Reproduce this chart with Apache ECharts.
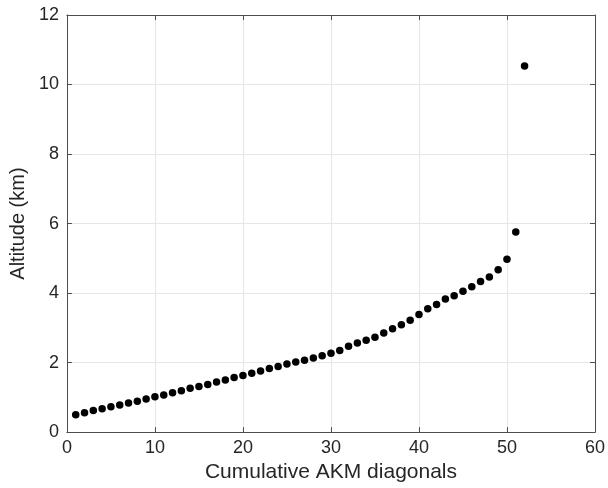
<!DOCTYPE html>
<html><head><meta charset="utf-8">
<script src="https://cdn.jsdelivr.net/npm/echarts@6/dist/echarts.min.js"></script>
<style>html,body{margin:0;padding:0;background:#fff}#c{width:608px;height:488px}</style>
</head><body><div id="c"></div>
<script>
const diagonals = [1,2,3,4,5,6,7,8,9,10,11,12,13,14,15,16,17,18,19,20,21,22,23,24,25,26,27,28,29,30,31,32,33,34,35,36,37,38,39,40,41,42,43,44,45,46,47,48,49,50,51,52];
const altitude = [0.50,0.56,0.62,0.67,0.73,0.78,0.84,0.89,0.95,1.02,1.07,1.13,1.19,1.26,1.31,1.37,1.44,1.50,1.57,1.63,1.69,1.76,1.83,1.89,1.96,2.02,2.07,2.13,2.20,2.27,2.35,2.47,2.56,2.64,2.73,2.85,2.97,3.09,3.22,3.38,3.55,3.67,3.83,3.92,4.05,4.18,4.33,4.46,4.67,4.97,5.76,10.53];
const xTicks = [0,10,20,30,40,50,60];
const yTicks = [0,2,4,6,8,10,12];

const font = 'Liberation Sans, Arial, Helvetica, sans-serif';
const axisColor = '#4d4d4d';
const textColor = '#262626';
const chart = echarts.init(document.getElementById('c'));
const baseX = {
  type:'value', min:0, max:60, interval:10,
  axisLine:{show:true, onZero:false, lineStyle:{color:axisColor, width:1}},
  axisTick:{show:true, inside:true, length:5, lineStyle:{color:axisColor}}
};
const baseY = {
  type:'value', min:0, max:12, interval:2,
  axisLine:{show:true, onZero:false, lineStyle:{color:axisColor, width:1}},
  axisTick:{show:true, inside:true, length:5, lineStyle:{color:axisColor}}
};
chart.setOption({
  animation:false,
  backgroundColor:'#fff',
  grid:{left:65, right:11, top:15, bottom:53},
  xAxis:[
    Object.assign({}, baseX, {position:'bottom',
      name:'Cumulative AKM diagonals', nameLocation:'middle', nameGap:26,
      nameTextStyle:{fontFamily:font, fontSize:21, color:textColor},
      axisLabel:{fontFamily:font, fontSize:18, color:textColor, margin:7,
        formatter:v=>xTicks.includes(v)?String(v):''},
      splitLine:{show:true, lineStyle:{color:'#e6e6e6', width:1}}}),
    Object.assign({}, baseX, {position:'top', axisLabel:{show:false}, splitLine:{show:false}})
  ],
  yAxis:[
    Object.assign({}, baseY, {position:'left',
      name:'Altitude (km)', nameLocation:'middle', nameGap:34,
      nameTextStyle:{fontFamily:font, fontSize:20, color:textColor},
      axisLabel:{fontFamily:font, fontSize:18, color:textColor, margin:8,
        formatter:v=>yTicks.includes(v)?String(v):''},
      splitLine:{show:true, lineStyle:{color:'#e6e6e6', width:1}}}),
    Object.assign({}, baseY, {position:'right', axisLabel:{show:false}, splitLine:{show:false}})
  ],
  series:[{
    type:'scatter', xAxisIndex:0, yAxisIndex:0,
    symbol:'circle', symbolSize:7.5,
    itemStyle:{color:'#000', opacity:1},
    data:diagonals.map((d,i)=>[d, altitude[i]])
  }]
});
</script></body></html>
